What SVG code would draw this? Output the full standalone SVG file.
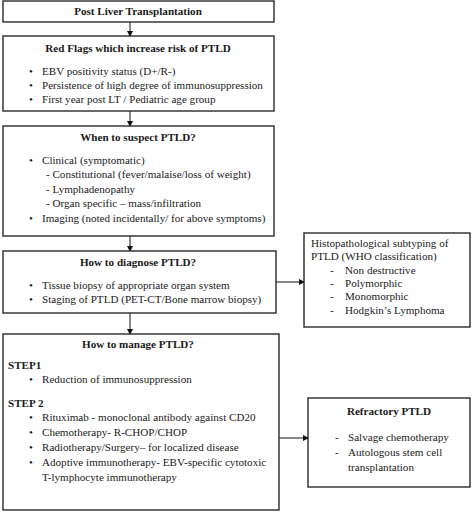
<svg xmlns="http://www.w3.org/2000/svg" width="474" height="512" viewBox="0 0 474 512">
<defs>
<marker id="ah" markerWidth="6" markerHeight="6" refX="5" refY="3" orient="auto" markerUnits="userSpaceOnUse">
<path d="M0,0 L6,3 L0,6 z" fill="#111"/>
</marker>
<style>
.box{fill:#fff;stroke:#2a2a2a;stroke-width:1.4}
.t{font-weight:bold;text-anchor:middle}
.c{stroke:#111;stroke-width:1;fill:none}
</style>
</defs>
<rect width="474" height="512" fill="#fff"/>
<g id="connectors">
<line class="c" x1="130" y1="22" x2="130" y2="36" marker-end="url(#ah)"/>
<line class="c" x1="130" y1="111" x2="130" y2="126" marker-end="url(#ah)"/>
<line class="c" x1="130" y1="236" x2="130" y2="251" marker-end="url(#ah)"/>
<line class="c" x1="130" y1="313" x2="130" y2="334" marker-end="url(#ah)"/>
<line class="c" x1="276" y1="282" x2="304" y2="282" marker-end="url(#ah)"/>
<line class="c" x1="279" y1="438" x2="308" y2="438" marker-end="url(#ah)"/>
</g>
<g font-family="'Liberation Serif', 'Times New Roman', serif" font-size="11.1" fill="#1a1a1a">
<g id="n1">
<rect class="box" x="3" y="1" width="271" height="21"/>
<text class="t" x="138" y="15">Post Liver Transplantation</text>
</g>
<g id="n2">
<rect class="box" x="3" y="36" width="271" height="75"/>
<text class="t" x="138" y="52">Red Flags which increase risk of PTLD</text>
<text x="29" y="75">•</text><text x="42" y="75">EBV positivity status (D+/R-)</text>
<text x="29" y="89">•</text><text x="42" y="89">Persistence of high degree of immunosuppression</text>
<text x="29" y="103">•</text><text x="42" y="103">First year post LT / Pediatric age  group</text>
</g>
<g id="n3">
<rect class="box" x="3" y="126" width="271" height="110"/>
<text class="t" x="138" y="141">When to suspect PTLD?</text>
<text x="29" y="164">•</text><text x="42" y="164">Clinical (symptomatic)</text>
<text x="46" y="178">- Constitutional (fever/malaise/loss of weight)</text>
<text x="46" y="193">- Lymphadenopathy</text>
<text x="46" y="207">- Organ specific – mass/infiltration</text>
<text x="29" y="222">•</text><text x="42" y="222">Imaging (noted incidentally/ for above symptoms)</text>
</g>
<g id="n4">
<rect class="box" x="3" y="251" width="273" height="62"/>
<text class="t" x="138" y="266">How to diagnose PTLD?</text>
<text x="29" y="289">•</text><text x="42" y="289">Tissue biopsy of appropriate organ system</text>
<text x="29" y="303">•</text><text x="42" y="303">Staging of PTLD (PET-CT/Bone marrow biopsy)</text>
</g>
<g id="n5">
<rect class="box" x="3" y="334" width="276" height="176"/>
<text class="t" x="138" y="348">How to manage PTLD?</text>
<text x="8" y="369" font-weight="bold">STEP1</text>
<text x="29" y="383">•</text><text x="42" y="383">Reduction of immunosuppression</text>
<text x="8" y="407" font-weight="bold">STEP 2</text>
<text x="29" y="421">•</text><text x="42" y="421">Rituximab - monoclonal antibody against CD20</text>
<text x="29" y="436">•</text><text x="42" y="436">Chemotherapy- R-CHOP/CHOP</text>
<text x="29" y="451">•</text><text x="42" y="451">Radiotherapy/Surgery– for localized disease</text>
<text x="29" y="466">•</text><text x="42" y="466">Adoptive immunotherapy- EBV-specific cytotoxic</text>
<text x="42" y="481">T-lymphocyte immunotherapy</text>
</g>
<g id="n6">
<rect class="box" x="304" y="233" width="166" height="94"/>
<text x="311" y="247">Histopathological subtyping of</text>
<text x="311" y="260">PTLD (WHO classification)</text>
<text x="330" y="274">-</text><text x="345" y="274">Non destructive</text>
<text x="330" y="287">-</text><text x="345" y="287">Polymorphic</text>
<text x="330" y="300">-</text><text x="345" y="300">Monomorphic</text>
<text x="330" y="314">-</text><text x="345" y="314">Hodgkin’s Lymphoma</text>
</g>
<g id="n7">
<rect class="box" x="308" y="398" width="162" height="89"/>
<text class="t" x="389" y="415">Refractory PTLD</text>
<text x="335" y="441">-</text><text x="348" y="441">Salvage chemotherapy</text>
<text x="335" y="456">-</text><text x="348" y="456">Autologous stem cell</text>
<text x="348" y="471">transplantation</text>
</g>
</g>
</svg>
